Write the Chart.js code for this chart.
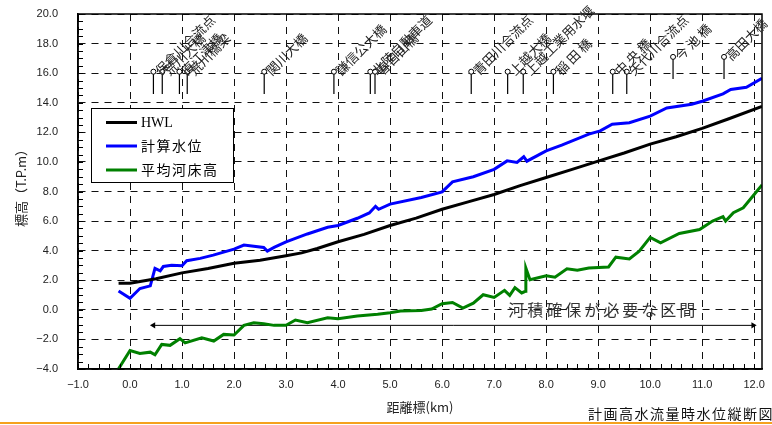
<!DOCTYPE html>
<html>
<head>
<meta charset="utf-8">
<script src="https://cdn.jsdelivr.net/npm/chart.js@4/dist/chart.umd.min.js"></script>
<style>
html,body{margin:0;padding:0;background:#fff}
#wrap{width:772px;height:425px;position:relative}
</style>
</head>
<body>
<div id="wrap"><canvas id="chart" width="772" height="425"></canvas></div>
<script>

// HWL
const hwlKm = [-0.22,0.0,0.5,1.0,1.5,2.0,2.5,3.0,3.3,3.6,4.0,4.5,5.0,5.5,6.0,6.5,7.0,7.5,8.0,8.5,9.0,9.5,10.0,10.5,11.0,11.5,12.15]
const hwlLevel = [1.8,1.8,2.1,2.5,2.8,3.15,3.35,3.65,3.85,4.15,4.6,5.1,5.7,6.2,6.8,7.3,7.8,8.4,8.95,9.5,10.05,10.6,11.2,11.7,12.27,12.9,13.75]

// 計算水位
const calcKm = [-0.22,0.0,0.19,0.39,0.48,0.58,0.64,0.8,1.0,1.09,1.35,1.6,2.0,2.19,2.57,2.64,2.77,3.0,3.41,3.8,4.0,4.37,4.6,4.72,4.78,5.0,5.6,6.0,6.2,6.6,7.0,7.25,7.44,7.57,7.63,8.0,8.3,8.82,9.04,9.27,9.6,10.0,10.32,10.8,11.0,11.4,11.55,11.85,12.15]
const calcLevel = [1.28,0.78,1.44,1.62,2.8,2.64,2.93,3.02,2.98,3.32,3.48,3.7,4.1,4.38,4.22,3.97,4.22,4.6,5.13,5.58,5.7,6.19,6.55,7.0,6.8,7.15,7.6,7.97,8.65,9.0,9.5,10.07,9.96,10.35,10.05,10.75,11.14,11.88,12.1,12.55,12.65,13.1,13.65,13.9,14.1,14.6,14.9,15.05,15.65]

// 平均河床高
const bedKm = [-0.24,0.0,0.19,0.39,0.48,0.61,0.77,0.96,1.06,1.38,1.61,1.8,2.0,2.19,2.38,2.57,2.77,3.0,3.18,3.41,3.8,4.0,4.37,4.76,5.0,5.2,5.6,5.8,6.0,6.2,6.4,6.6,6.79,7.0,7.2,7.3,7.4,7.53,7.6,7.61,7.69,8.0,8.17,8.4,8.6,8.82,9.2,9.34,9.6,9.79,10.0,10.2,10.56,10.95,11.2,11.4,11.45,11.6,11.79,12.0,12.15]
const bedLevel = [-4.1,-2.75,-2.95,-2.86,-3.04,-2.34,-2.4,-1.95,-2.23,-1.89,-2.11,-1.66,-1.7,-1.05,-0.87,-0.94,-1.05,-1.05,-0.69,-0.87,-0.53,-0.6,-0.42,-0.3,-0.2,-0.08,-0.05,0.05,0.41,0.5,0.12,0.45,1.02,0.84,1.32,0.98,1.5,1.14,1.25,2.83,2.04,2.3,2.2,2.77,2.68,2.83,2.9,3.56,3.44,3.96,4.9,4.53,5.16,5.43,6.0,6.3,6.0,6.57,6.9,7.8,8.45]

// 主要地点
const placeNames = ['保倉川合流点','荒川大橋','直江津橋','荒川橋梁','関川大橋','謙信公大橋','北陸自動車道','春日山橋','青田川合流点','上越大橋','上越工業用水堰','稲 田 橋','中 央 橋','矢代川合流点','今 池 橋','高田大橋']
const placeKm = [0.45,0.62,0.95,1.1,2.58,3.92,4.62,4.71,6.56,7.26,7.56,8.14,9.28,9.55,10.44,11.42]
const placeTop = [16.1,16.1,16.1,16.1,16.1,16.1,16.1,16.1,16.1,16.1,16.1,16.1,16.1,16.1,17.1,17.1]
const placeBottom = [14.6,14.6,14.6,14.6,14.6,14.6,14.6,14.6,14.6,14.6,14.6,14.6,14.6,14.6,15.6,15.6]

// 河積確保が必要な区間
const rangeKm = [0.45,11.98]
const rangeLevel = -1.05
const rangeText = '河積確保が必要な区間'

const xTicks = [-1,0,1,2,3,4,5,6,7,8,9,10,11,12]

function pts(xs, ys){
  return xs.map((x,i)=>({x:x, y:ys[i]}))
}

let placeData = []
placeKm.forEach((k,i)=>{
  placeData.push({x:k, y:placeTop[i]})
  placeData.push({x:k, y:placeBottom[i]})
  placeData.push({x:k, y:null})
})

function fmt(v){
  return (v < 0 ? '\u2212' : '') + Math.abs(v).toFixed(1)
}

const jp = '"Noto Sans CJK JP", sans-serif'

const extras = {
  id: 'extras',
  afterDatasetsDraw(chart){
    const c = chart.ctx
    const xs = chart.scales.x, ys = chart.scales.y
    const a = chart.chartArea

    // frame
    c.save()
    c.strokeStyle = '#000'
    c.lineWidth = 1.5
    c.strokeRect(a.left, a.top, a.right - a.left, a.bottom - a.top)

    // minor ticks, inward
    c.lineWidth = 1
    c.beginPath()
    for (let v = -4; v <= 20.001; v += 0.5){
      let p = Math.round(ys.getPixelForValue(v)) + 0.5
      c.moveTo(a.left, p); c.lineTo(a.left + 5, p)
    }
    for (let v = -1; v <= 12.15; v += 0.2){
      let p = Math.round(xs.getPixelForValue(v)) + 0.5
      c.moveTo(p, a.bottom); c.lineTo(p, a.bottom - 5)
    }
    c.stroke()

    // place names
    c.fillStyle = '#222'
    c.font = '13px ' + jp
    c.textAlign = 'left'
    c.textBaseline = 'middle'
    placeNames.forEach((n,i)=>{
      let px = xs.getPixelForValue(placeKm[i])
      let py = ys.getPixelForValue(placeTop[i])
      c.save()
      c.translate(px + 4, py + 1)
      c.rotate(-Math.PI/4)
      c.fillText(n, 0, 0)
      c.restore()
    })

    // range text
    c.font = '16px ' + jp
    c.fillStyle = '#333'
    c.textAlign = 'center'
    c.letterSpacing = '3px'
    c.fillText(rangeText, xs.getPixelForValue(9.1), ys.getPixelForValue(0.0))
    c.letterSpacing = '0px'

    // legend
    const lx = 91, ly = 108, lw = 142, lh = 74
    c.fillStyle = '#fff'
    c.fillRect(lx, ly, lw, lh)
    c.strokeStyle = '#000'
    c.lineWidth = 1
    c.strokeRect(lx + 0.5, ly + 0.5, lw, lh)
    const rows = [122.5, 146, 170]
    chart.data.datasets.slice(0,3).forEach((d,i)=>{
      c.strokeStyle = d.borderColor
      c.lineWidth = 3
      c.beginPath()
      c.moveTo(106, rows[i]); c.lineTo(137, rows[i])
      c.stroke()
      c.fillStyle = '#000'
      c.textAlign = 'left'
      c.font = '14px "Liberation Serif", ' + jp
      c.letterSpacing = i === 0 ? '0px' : '1.5px'
      c.fillText(d.label, 141, rows[i] + 1)
    })
    c.letterSpacing = '0px'

    // axis titles
    c.fillStyle = '#222'
    c.font = '13px ' + jp
    c.textAlign = 'center'
    c.fillText('距離標(km)', (a.left + a.right)/2, 407)
    c.save()
    c.translate(21, 185)
    c.rotate(-Math.PI/2)
    c.fillText('標高（T.P.m）', 0, 0)
    c.restore()

    // footer
    c.textAlign = 'left'
    c.font = '14px ' + jp
    c.fillStyle = '#111'
    c.letterSpacing = '1.5px'
    c.fillText('計画高水流量時水位縦断図', 588, 414)
    c.letterSpacing = '0px'
    c.fillStyle = '#f5a21e'
    c.fillRect(0, 422, 772, 2)
    c.restore()
  }
}

new Chart(document.getElementById('chart'), {
  type: 'line',
  data: {
    datasets: [
      {label:'HWL', data:pts(hwlKm, hwlLevel), borderColor:'#000000', borderWidth:3, pointRadius:0},
      {label:'計算水位', data:pts(calcKm, calcLevel), borderColor:'#0000ff', borderWidth:3, pointRadius:0},
      {label:'平均河床高', data:pts(bedKm, bedLevel), borderColor:'#008000', borderWidth:3, pointRadius:0},
      {label:'places', data:placeData, borderColor:'#000', borderWidth:1.2, spanGaps:false,
        pointRadius:ctx=>ctx.dataIndex % 3 === 0 ? 2.5 : 0,
        pointBackgroundColor:'#fff', pointBorderColor:'#000', pointBorderWidth:1},
      {label:'range', data:rangeKm.map(k=>({x:k, y:rangeLevel})), borderColor:'#000', borderWidth:1,
        pointStyle:'triangle', pointRotation:[-90,90], pointRadius:3.5,
        pointBackgroundColor:'#000', pointBorderColor:'#000', pointBorderWidth:0}
    ]
  },
  options: {
    responsive: false,
    maintainAspectRatio: false,
    animation: false,
    devicePixelRatio: 1,
    layout: {padding:{top:14, right:10, left:0, bottom:0}},
    plugins: {legend:{display:false}, tooltip:{enabled:false}},
    elements: {line:{tension:0}},
    scales: {
      x: {
        type: 'linear', min: -1, max: 12.15,
        afterBuildTicks: s => { s.ticks = xTicks.map(v=>({value:v})) },
        afterFit: s => { s.height = 56; s.paddingLeft = 0; s.paddingRight = 0 },
        grid: {color:'#111', lineWidth:1, drawTicks:false},
        border: {display:true, color:'#000', width:1.5, dash:[7,6]},
        ticks: {callback:v=>fmt(v), padding:9, color:'#222', font:{family:'"Liberation Sans", Arial', size:11}}
      },
      y: {
        min: -4, max: 20,
        ticks: {stepSize:2, callback:v=>fmt(v), padding:20, color:'#222', font:{family:'"Liberation Sans", Arial', size:11}},
        afterFit: s => { s.width = 78; s.paddingTop = 0; s.paddingBottom = 0 },
        grid: {color:'#111', lineWidth:1, drawTicks:false},
        border: {display:true, color:'#000', width:1.5, dash:[7,6]}
      }
    }
  },
  plugins: [extras]
})
</script>
</body>
</html>
